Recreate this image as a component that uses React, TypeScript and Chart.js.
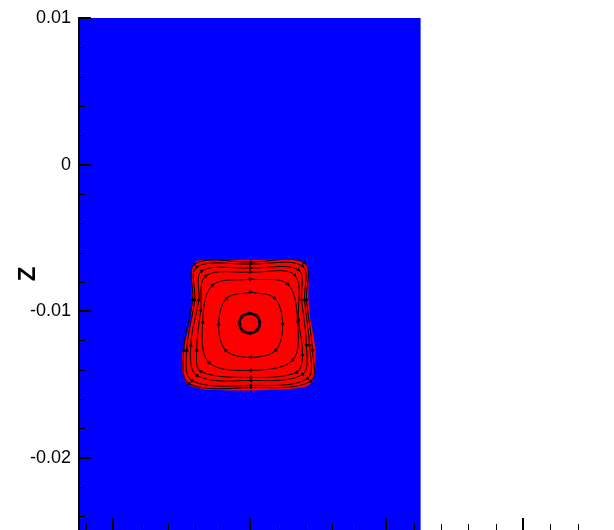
import React, { useEffect, useRef } from "react";
import { Chart, registerables } from "chart.js";

Chart.register(...registerables);

type Pt = { x: number; y: number };

// Axis ticks (values in data units)
const yMajorTicks = [0.01, 0, -0.01, -0.02];
const yMinorTicks = [0.008, 0.006, 0.004, 0.002, -0.002, -0.004, -0.006, -0.008, -0.012, -0.014, -0.016, -0.018, -0.022, -0.024];
const xMajorTicks = [0, 0.01, 0.02, 0.03];
const xMinorTicks = [-0.002, 0.002, 0.004, 0.006, 0.008, 0.012, 0.014, 0.016, 0.018, 0.022, 0.024, 0.026, 0.028, 0.032, 0.034];
const yAxisTitle = "Z";

const xMin = -0.00252;
const xMax = 0.03586;
const yMin = -0.02493;
const yMax = 0.01;

// Computational domain (blue phase)
const domainX = [-0.0025, 0.0225, 0.0225, -0.0025, -0.0025];
const domainY = [0.01, 0.01, -0.026, -0.026, 0.01];

// Droplet interface (red phase)
const dropletOutline: [number, number][] = [
  [0.01005, -0.00651], [0.01334, -0.00651], [0.01393, -0.00664], [0.01422, -0.00692],
  [0.01429, -0.00788], [0.01429, -0.00925], [0.01444, -0.01062], [0.01466, -0.01164],
  [0.0148, -0.01267], [0.0148, -0.0137], [0.01466, -0.01459], [0.01429, -0.01507],
  [0.01334, -0.01527], [0.01005, -0.01541], [0.00676, -0.01534], [0.00581, -0.01514],
  [0.00523, -0.01473], [0.00501, -0.0139], [0.00508, -0.01267], [0.00537, -0.01164],
  [0.00567, -0.01062], [0.00574, -0.00925], [0.00574, -0.00788], [0.00581, -0.00692],
  [0.0061, -0.00658], [0.00676, -0.00651], [0.01005, -0.00651],
];

// Streamlines inside the droplet
const streamline1: [number, number][] = [
  [0.00998, -0.01014], [0.01051, -0.01033], [0.01072, -0.01082], [0.01051, -0.01131],
  [0.00998, -0.0115], [0.00945, -0.01131], [0.00924, -0.01082], [0.00945, -0.01033],
  [0.00998, -0.01014],
];
const streamline2: [number, number][] = [
  [0.01005, -0.0087], [0.01181, -0.00911], [0.01239, -0.01089], [0.01188, -0.01267],
  [0.01005, -0.01315], [0.00822, -0.01267], [0.00771, -0.01089], [0.0083, -0.00911],
  [0.01005, -0.0087],
];
const streamline3: [number, number][] = [
  [0.01005, -0.00781], [0.01276, -0.00815], [0.01349, -0.01075], [0.01312, -0.01336],
  [0.01005, -0.01404], [0.00698, -0.01349], [0.00654, -0.01075], [0.00727, -0.00822],
  [0.01005, -0.00781],
];
const streamline4: [number, number][] = [
  [0.01005, -0.00733], [0.01327, -0.00753], [0.01356, -0.01062], [0.01385, -0.01301],
  [0.01341, -0.01418], [0.01005, -0.01452], [0.0064, -0.01411], [0.0061, -0.01267],
  [0.0064, -0.00993], [0.00676, -0.0076], [0.01005, -0.00733],
];
const streamline5: [number, number][] = [
  [0.01005, -0.00705], [0.01356, -0.00719], [0.01378, -0.00925], [0.01414, -0.01233],
  [0.01385, -0.01432], [0.01005, -0.01473], [0.0061, -0.01438], [0.00567, -0.01233],
  [0.00625, -0.00925], [0.00647, -0.00726], [0.01005, -0.00705],
];
const streamline6: [number, number][] = [
  [0.01005, -0.00678], [0.01385, -0.00692], [0.014, -0.00925], [0.01436, -0.01233],
  [0.01422, -0.01459], [0.01005, -0.01507], [0.00574, -0.01473], [0.00537, -0.01267],
  [0.00596, -0.00925], [0.0061, -0.00699], [0.01005, -0.00678],
];
const streamline7: [number, number][] = [
  [0.01005, -0.00664], [0.014, -0.00671], [0.01414, -0.00925], [0.01458, -0.01267],
  [0.01444, -0.01479], [0.01005, -0.01521], [0.00552, -0.01493], [0.00515, -0.01267],
  [0.00581, -0.00925], [0.00596, -0.00678], [0.01005, -0.00664],
];

const streamlines = [streamline1, streamline2, streamline3, streamline4, streamline5, streamline6, streamline7];

const toPts = (arr: [number, number][]): Pt[] => arr.map(([x, y]) => ({ x, y }));

const tickMarksPlugin = {
  id: "tickMarks",
  afterDraw(chart: any) {
    const { ctx, chartArea, scales } = chart;
    ctx.save();
    ctx.strokeStyle = "#000";
    const drawY = (vals: number[], len: number, w: number) => {
      ctx.lineWidth = w;
      vals.forEach((v) => {
        const py = Math.round(scales.y.getPixelForValue(v)) + (w % 2 ? 0.5 : 0);
        ctx.beginPath();
        ctx.moveTo(chartArea.left, py);
        ctx.lineTo(chartArea.left + len, py);
        ctx.stroke();
      });
    };
    const drawX = (vals: number[], len: number, w: number) => {
      ctx.lineWidth = w;
      vals.forEach((v) => {
        const px = Math.round(scales.x.getPixelForValue(v)) + (w % 2 ? 0.5 : 0);
        ctx.beginPath();
        ctx.moveTo(px, chartArea.bottom);
        ctx.lineTo(px, chartArea.bottom - len);
        ctx.stroke();
      });
    };
    drawY(yMinorTicks, 6, 1);
    drawY(yMajorTicks, 12, 2);
    drawX(xMinorTicks, 6, 1);
    drawX(xMajorTicks, 12, 2);
    ctx.restore();
  },
};

function arrowRotation(ctx: any) {
  const data = ctx.dataset.data as Pt[];
  const i = ctx.dataIndex;
  const n = data.length;
  if (!data[i]) return 0;
  const prev = i === 0 ? data[n - 2] : data[i - 1];
  const next = i === n - 1 ? data[1] : data[i + 1];
  const dx = (next.x - prev.x) * 13680;
  const dy = (next.y - prev.y) * 14600;
  return (Math.atan2(dx, dy) * 180) / Math.PI;
}

export default function App() {
  const canvasRef = useRef<HTMLCanvasElement | null>(null);

  useEffect(() => {
    if (!canvasRef.current) return;
    const domain: Pt[] = domainX.map((x, i) => ({ x, y: domainY[i] }));
    const datasets: any[] = [
      {
        data: domain,
        showLine: true,
        borderWidth: 0,
        borderColor: "rgba(0,0,255,0)",
        backgroundColor: "#0000ff",
        fill: "shape",
        pointRadius: 0,
        tension: 0,
        order: 10,
      },
      {
        data: toPts(dropletOutline),
        showLine: true,
        borderWidth: 0,
        borderColor: "rgba(255,0,0,0)",
        backgroundColor: "#ff0000",
        fill: "shape",
        pointRadius: 0,
        tension: 0.25,
        order: 9,
      },
      ...streamlines.map((s, k) => ({
        data: toPts(s),
        showLine: true,
        fill: false,
        borderColor: "#000",
        borderWidth: k === 0 ? 2.5 : 1,
        tension: 0.35,
        pointStyle: "triangle",
        pointRadius: (c: any) => (c.dataIndex === c.dataset.data.length - 1 ? 0 : 2.4),
        pointRotation: arrowRotation,
        pointBackgroundColor: "#000",
        pointBorderColor: "#000",
        pointBorderWidth: 0,
        order: 1,
      })),
    ];

    const chart = new Chart(canvasRef.current, {
      type: "scatter",
      data: { datasets },
      options: {
        animation: false,
        responsive: false,
        devicePixelRatio: 1,
        events: [],
        layout: { padding: { top: 18, right: 11, bottom: 0, left: 0 } },
        plugins: { legend: { display: false }, tooltip: { enabled: false } },
        scales: {
          x: {
            type: "linear",
            min: xMin,
            max: xMax,
            grid: { display: false, drawTicks: false },
            border: { display: true, color: "#8c8c8c", width: 1, z: 1 },
            ticks: { display: false },
            afterFit: (s: any) => {
              s.height = 1;
              s.paddingLeft = 0;
              s.paddingRight = 0;
            },
          },
          y: {
            type: "linear",
            min: yMin,
            max: yMax,
            grid: { display: false, drawTicks: false },
            border: { display: true, color: "#000", width: 2, z: 1 },
            afterBuildTicks: (s: any) => {
              s.ticks = yMajorTicks.map((v) => ({ value: v }));
            },
            ticks: {
              color: "#000",
              padding: 8,
              font: { family: "'Liberation Sans', Arial, sans-serif", size: 18 },
              callback: (v: any) => String(Number(v)),
            },
            title: {
              display: true,
              text: yAxisTitle,
              color: "#000",
              font: { family: "'Liberation Sans', Arial, sans-serif", size: 24, weight: "bold" },
              padding: { top: 14, bottom: 0 },
            },
            afterFit: (s: any) => {
              s.width = 79;
              s.paddingTop = 0;
              s.paddingBottom = 0;
            },
          },
        },
      },
      plugins: [tickMarksPlugin],
    } as any);

    return () => chart.destroy();
  }, []);

  return (
    <div style={{ position: "fixed", left: 0, top: 0, width: 614, height: 530, overflow: "hidden", background: "#fff" }}>
      <canvas ref={canvasRef} width={614} height={534} style={{ width: 614, height: 534, display: "block" }} />
    </div>
  );
}
